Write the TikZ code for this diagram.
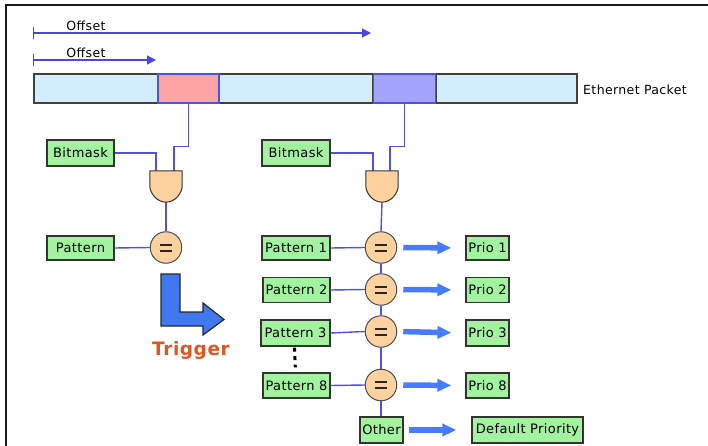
\documentclass[tikz,border=0pt]{standalone}
\usepackage{fontspec}
\setmainfont{DejaVu Sans}[LetterSpace=3]
\usetikzlibrary{arrows.meta,calc}
\definecolor{pktblue}{HTML}{D2EEFD}
\definecolor{pktred}{HTML}{FFA4A4}
\definecolor{pktpurple}{HTML}{A4A4FF}
\definecolor{boxgreen}{HTML}{A2F2A0}
\definecolor{peach}{HTML}{FDD29E}
\definecolor{wireblue}{HTML}{5050E6}
\definecolor{offblue}{HTML}{4848DC}
\definecolor{flowblue}{HTML}{467CFF}
\definecolor{trigblue}{HTML}{4078F0}
\definecolor{trigred}{HTML}{E0561E}
\tikzset{
  seg/.style={draw=black!75, line width=1.2pt, inner sep=0pt, minimum height=29pt},
  hseg/.style={draw=wireblue, line width=1.2pt, inner sep=0pt, minimum height=29pt},
  gbox/.style={draw=black!80, fill=boxgreen, line width=1.2pt, inner sep=0pt, font=\fontsize{13}{15}\selectfont},
  wire/.style={draw=wireblue, line width=1.4pt},
  gatebox/.style={inner sep=0pt, minimum width=32pt, minimum height=31pt},
  gatestyle/.style={draw=black!80, fill=peach, line width=1pt},
  eqc/.style={circle, draw=black!70, fill=peach, line width=1pt, inner sep=0pt, minimum size=31.5pt},
  eqbar/.style={draw=black!85, line width=2pt},
  flow/.style={draw=flowblue, line width=5.5pt, -{Triangle[length=14pt,width=12pt]}, shorten <=6pt, shorten >=14pt},
  offarrow/.style={draw=offblue, line width=1.2pt, {Bar[width=12pt]}-{Triangle[length=9pt,width=9pt]}},
  lbl/.style={inner sep=0pt, font=\fontsize{12.5}{14}\selectfont}
}
\newcommand\gateshape[1]{%
  \draw[gatestyle] (#1.north west) -- (#1.north east) -- ([yshift=-15pt]#1.north east)
    .. controls ([yshift=9pt]#1.south east) and ([xshift=9pt]#1.south) .. (#1.south)
    .. controls ([xshift=-9pt]#1.south) and ([yshift=9pt]#1.south west) .. ([yshift=-15pt]#1.north west) -- cycle;}
\newcommand\eqbars[1]{%
  \draw[eqbar] ([xshift=-6pt,yshift=3pt]#1.center) -- ([xshift=6pt,yshift=3pt]#1.center);
  \draw[eqbar] ([xshift=-6pt,yshift=-3pt]#1.center) -- ([xshift=6pt,yshift=-3pt]#1.center);}
\begin{document}
\begin{tikzpicture}[x=1pt,y=-1pt]
\useasboundingbox (0,0) rectangle (708,446);
% frame
\draw[black!90, line width=2pt] (5.5,446) -- (5.5,5.5) -- (708,5.5);

% offsets
\coordinate (o1s) at (33,33); \coordinate (o1e) at (371,33);
\coordinate (o2s) at (33,60); \coordinate (o2e) at (156,60);
\draw[offarrow] (o1s) -- (o1e);
\draw[offarrow] (o2s) -- (o2e);
\node[lbl, anchor=center] (off1) at (86,26) {Offset};
\node[lbl, anchor=center] (off2) at (86,53) {Offset};

% packet
\node[seg, fill=pktblue, minimum width=124pt] (s1) at (96,88.5) {};
\node[seg, fill=pktblue, minimum width=154pt] (s3) at (296,88.5) {};
\node[seg, fill=pktblue, minimum width=141pt] (s5) at (506.5,88.5) {};
\node[hseg, fill=pktred, minimum width=61pt] (red) at (188.5,88.5) {};
\node[hseg, fill=pktpurple, minimum width=62pt] (pur) at (404.5,88.5) {};
\node[lbl, anchor=west] (eth) at (583,90) {Ethernet Packet};

% left column
\node[gbox, minimum width=67pt, minimum height=26pt] (bm1) at (80.5,153) {Bitmask};
\node[gatebox] (g1) at (166,186.5) {};
\node[eqc] (e1) at (166,247.5) {};
\node[gbox, minimum width=67pt, minimum height=24pt] (pat) at (80.5,248) {Pattern};
\draw[wire] (red.south) -- ++(0,43) -| ([xshift=8pt]g1.north);
\draw[wire] (bm1.east) -| ([xshift=-10pt]g1.north);
\draw[wire] (g1.south) -- (e1.north);
\draw[wire] (pat.east) -- (e1.west);
\gateshape{g1}
\eqbars{e1}

% trigger
\draw[black!85, fill=trigblue, line width=1.2pt, line join=miter]
  (161,274) -- (180,274) -- (180,312) -- (203,312) -- (203,303) -- (224,319.5)
  -- (203,335) -- (203,326) -- (161,326) -- cycle;
\node[inner sep=0pt, text=trigred, font=\fontsize{18.5}{21}\selectfont\bfseries] (trig) at (191,350) {Trigger};

% right column
\node[gbox, minimum width=68pt, minimum height=26pt] (bm2) at (296,153) {Bitmask};
\node[gatebox] (g2) at (382,186.5) {};
\node[eqc] (e2) at (381,247.5) {};
\node[eqc] (e3) at (381,289.5) {};
\node[eqc] (e4) at (381,331.5) {};
\node[eqc] (e5) at (381,385) {};
\node[gbox, minimum width=68pt, minimum height=24pt] (p1) at (296,248) {Pattern 1};
\node[gbox, minimum width=67pt, minimum height=25pt] (p2) at (296.5,290) {Pattern 2};
\node[gbox, minimum width=69pt, minimum height=26pt] (p3) at (295.5,333) {Pattern 3};
\node[gbox, minimum width=67pt, minimum height=25pt] (p8) at (296.5,385.5) {Pattern 8};
\node[gbox, minimum width=43pt, minimum height=24pt] (r1) at (487.5,248) {Prio 1};
\node[gbox, minimum width=43pt, minimum height=25pt] (r2) at (487.5,290) {Prio 2};
\node[gbox, minimum width=43pt, minimum height=26pt] (r3) at (487.5,333) {Prio 3};
\node[gbox, minimum width=43pt, minimum height=25pt] (r8) at (487.5,385.5) {Prio 8};
\node[gbox, minimum width=43pt, minimum height=26pt] (oth) at (381.5,430) {Other};
\node[gbox, minimum width=111pt, minimum height=26pt] (def) at (527.5,430) {Default Priority};

\draw[wire] (pur.south) -- ++(0,43) -| ([xshift=8pt]g2.north);
\draw[wire] (bm2.east) -| ([xshift=-9pt]g2.north);
\draw[wire] (g2.south) -- (e2.north);
\draw[wire] (e2.south) -- (e3.north);
\draw[wire] (e3.south) -- (e4.north);
\draw[wire] (e4.south) -- (e5.north);
\draw[wire] (e5.south) -- (e5.south |- oth.north);
\draw[wire] (p1.east) -- (e2.west);
\draw[wire] (p2.east) -- (e3.west);
\draw[wire] (p3.east) -- (e4.west);
\draw[wire] (p8.east) -- (e5.west);
\gateshape{g2}
\eqbars{e2}\eqbars{e3}\eqbars{e4}\eqbars{e5}

\draw[flow] (e2.east) -- (r1.west);
\draw[flow] (e3.east) -- (r2.west);
\draw[flow] (e4.east) -- (r3.west);
\draw[flow] (e5.east) -- (r8.west);
\draw[flow, shorten <=5pt, shorten >=15pt] (oth.east) -- (def.west);

% vertical dots
\draw[black, line width=3pt, dash pattern=on 4pt off 4.5pt, shorten <=1pt, shorten >=5pt]
  ([xshift=-1pt]p3.south) -- ([xshift=-1pt]p8.north);
\end{tikzpicture}
\end{document}
